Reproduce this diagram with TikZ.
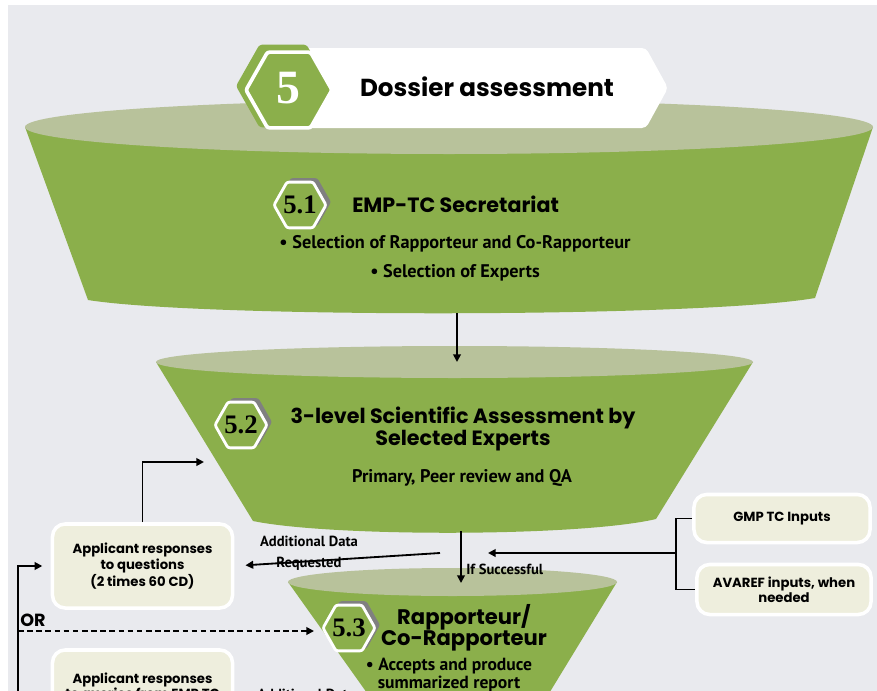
\documentclass[tikz,border=0pt]{standalone}
\usepackage{fontspec}
\setmainfont{Poppins}
\newfontfamily\labelfont{PT Sans}
\newfontfamily\numfont{Liberation Serif}
\usetikzlibrary{arrows.meta,positioning,calc}
\definecolor{pagegrey}{RGB}{233,234,238}
\definecolor{fgreen}{RGB}{139,175,75}
\definecolor{frim}{RGB}{184,194,155}
\definecolor{cream}{RGB}{238,238,221}
\definecolor{hexgrey}{RGB}{128,128,128}
% hexagon badge outline: options, centre x, centre y, half width
\newcommand{\hexpath}[4]{%
  \path[#1] (#2-#4,#3) -- (#2-#4/2,#3-0.88*#4) -- (#2+#4/2,#3-0.88*#4)
    -- (#2+#4,#3) -- (#2+#4/2,#3+0.88*#4) -- (#2-#4/2,#3+0.88*#4) -- cycle;}
\tikzset{
  funnel/.style={fill=fgreen},
  rim/.style={fill=frim},
  title/.style={font=\bfseries\fontsize{14.7}{16}\selectfont, align=center, inner sep=0pt},
  bullet/.style={font=\labelfont\bfseries\fontsize{13}{14}\selectfont, align=center, inner sep=0pt},
  lbl/.style={font=\labelfont\bfseries\fontsize{10.4}{11}\selectfont, align=center, inner sep=0pt},
  numtext/.style={font=\numfont\bfseries\fontsize{19}{19}\selectfont, inner sep=0pt},
  ibox/.style={draw=white, line width=2.5pt, fill=cream, rounded corners=9pt,
               font=\bfseries\fontsize{9.4}{9.2}\selectfont, align=center,
               minimum width=4.5cm, minimum height=2.1cm},
  flow/.style={line width=1.3pt, -{Triangle[length=5.5pt,width=5.5pt]}},
  badge/.style={fill=fgreen, draw=white, line width=2pt, rounded corners=1.5pt},
  badgeshade/.style={fill=hexgrey, rounded corners=1.5pt},
}
\begin{document}
\begin{tikzpicture}[x=0.025cm, y=-0.025cm]
\clip (0,0) rectangle (877,691);
\fill[white] (0,0) rectangle (877,691);
\fill[pagegrey] (8,5) rectangle (877,691);

% funnels, top to bottom
\path[funnel] (25,127) -- (88,300) .. controls (200,318) and (700,318) .. (815,298) -- (873,127) -- cycle;
\path[rim] (449,127) ellipse [x radius=424, y radius=27];
\path[funnel] (156,362) -- (253,521) .. controls (330,537) and (580,537) .. (656,519) -- (753,362) -- cycle;
\path[rim] (454.5,362) ellipse [x radius=298.5, y radius=16];
\path[funnel] (288,582) -- (372,700) -- (545,700) -- (617,582) -- cycle;
\path[rim] (452.5,582) ellipse [x radius=164.5, y radius=14];

% header banner
\path[fill=white, rounded corners=3pt] (296,48) -- (646,48) -- (668,88) -- (646,128) -- (296,128) -- cycle;
\hexpath{fill=fgreen, rounded corners=2pt}{283}{86}{47}
\hexpath{badge, line width=2.6pt}{289}{90}{43}
\node[font=\numfont\bfseries\fontsize{34}{34}\selectfont, text=white, inner sep=0pt] (n5) at (288,88) {5};
\node[font=\bfseries\fontsize{17.5}{20}\selectfont, inner sep=0pt] (head) at (487,87) {Dossier assessment};

% 5.1
\hexpath{badgeshade}{304}{202}{27}
\hexpath{badge}{300}{205}{26}
\node[numtext] (n51) at (300,205) {5.1};
\node[title, anchor=west] (t51) at (352,204) {EMP-TC Secretariat};
\node[bullet] (b51a) at (455,244) {• Selection of Rapporteur and Co-Rapporteur};
\node[bullet] (b51b) at (455,273) {• Selection of Experts};

% 5.2
\hexpath{badgeshade}{245}{422}{27}
\hexpath{badge}{241}{425}{26}
\node[numtext] (n52) at (241,425) {5.2};
\node[title] (t52) at (463,429) {3-level Scientific Assessment by\\Selected Experts};
\node[bullet] (b52) at (462,478) {Primary, Peer review and QA};

% 5.3
\hexpath{badgeshade}{353}{625}{27}
\hexpath{badge}{349}{628}{26}
\node[numtext] (n53) at (349,628) {5.3};
\node[title, font=\bfseries\fontsize{15}{15}\selectfont] (t53) at (464,628) {Rapporteur/\\Co-Rapporteur};
\node[bullet, font=\labelfont\bfseries\fontsize{12.5}{11}\selectfont] (b53) at (449,675) {• Accepts and produce\\summarized report};

% side boxes
\node[ibox] (resp) at (142.5,566) {Applicant responses\\to questions\\(2 times 60 CD)};
\node[ibox, minimum height=1.875cm] (query) at (142.5,687.5) {Applicant responses\\to queries from EMP TC};
\node[ibox, minimum width=4.4cm, minimum height=1.2cm] (gmp) at (782,518.5) {GMP TC Inputs};
\node[ibox, minimum width=4.35cm, minimum height=1.25cm] (avaref) at (784,589.5) {AVAREF inputs, when\\needed};

% connector ends
\coordinate (f1out) at (457,313);
\coordinate (f2in) at (457,362);
\coordinate (f2out) at (461,531);
\coordinate (f3in) at (461,583);
\coordinate (reqfrom) at (440,553);
\coordinate (f2side) at (204,462);
\coordinate (loopfoot) at (18,700);
\coordinate (orfrom) at (18,631);
\coordinate (f3side) at (314,631);
\coordinate (merge) at (676,553);
\coordinate (f3top) at (488,553);

\draw[flow] (f1out) -- (f2in);
\draw[flow] (f2out) -- (f3in);
\node[lbl, anchor=west] (succ) at (466,569) {If Successful};
\draw[flow, shorten >=8pt] (reqfrom) -- (resp.east);
\node[lbl] (req) at (309,553) {Additional Data\\[4pt]Requested};
\draw[flow] (resp.north) |- (f2side);
\draw[flow, shorten >=6pt] (loopfoot) |- (resp.west);
\draw[flow, dash pattern=on 4pt off 2.5pt] (orfrom) -- (f3side);
\node[font=\bfseries\fontsize{12.5}{13}\selectfont, anchor=base west, inner sep=0pt] (or) at (20,626) {OR};
\draw[line width=1.3pt] (gmp.west) -| (merge) |- (avaref.west);
\draw[flow] (merge) -- (f3top);
\node[lbl, anchor=base west] (more) at (257,699) {Additional Data};
\end{tikzpicture}
\end{document}
